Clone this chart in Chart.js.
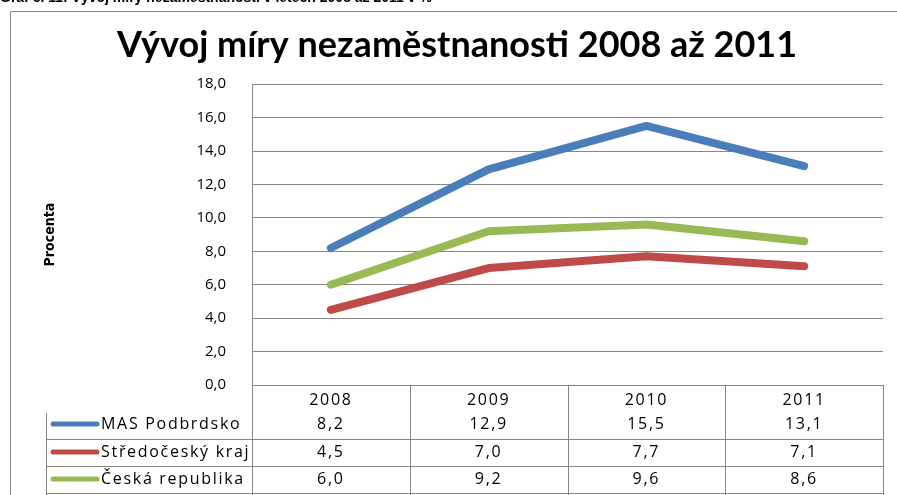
<!DOCTYPE html>
<html>
<head>
<meta charset="utf-8">
<script src="https://cdn.jsdelivr.net/npm/chart.js@4.4.0/dist/chart.umd.min.js"></script>
<style>
  html, body { margin: 0; padding: 0; background: #fff; overflow: hidden; }
</style>
</head>
<body>
<canvas id="chart" width="897" height="495"></canvas>
<script>
const years = ["2008", "2009", "2010", "2011"];
const seriesNames = ["MAS Podbrdsko", "Středočeský kraj", "Česká republika"];
const masPodbrdsko = [8.2, 12.9, 15.5, 13.1];
const stredocesky = [4.5, 7.0, 7.7, 7.1];
const ceskaRepublika = [6.0, 9.2, 9.6, 8.6];
const lineColors = ["#4a7ebb", "#be4b48", "#98b954"];

const caption = "Graf č. 11: Vývoj míry nezaměstnanosti v letech 2008 až 2011 v %";
const gridGray = "#868686";
const tableFont = '16px "Open Sans", sans-serif';

function fmt(v) {
    return v.toFixed(1).replace('.', ',');
}

// frame around the chart + cut-off caption above it
const frame = {
    id: 'frame',
    beforeDraw(chart) {
        const ctx = chart.ctx;
        ctx.save();
        ctx.strokeStyle = gridGray;
        ctx.lineWidth = 1;
        ctx.beginPath();
        ctx.moveTo(10.5, 495);
        ctx.lineTo(10.5, 11.5);
        ctx.lineTo(897, 11.5);
        ctx.stroke();
        ctx.fillStyle = "#000";
        ctx.font = 'bold 14px "Liberation Sans", sans-serif';
        ctx.textBaseline = 'alphabetic';
        ctx.fillText(caption, 0, 2);
        ctx.restore();
    }
};

// data table under the plot, like the Excel one
const dataTable = {
    id: 'dataTable',
    afterDraw(chart) {
        const ctx = chart.ctx;
        const x = chart.scales.x;
        const area = chart.chartArea;
        const series = chart.data.datasets;
        const rowY = [400, 424, 452, 479];
        const rowLines = [439, 466, 493];

        ctx.save();
        ctx.strokeStyle = gridGray;
        ctx.lineWidth = 1;
        ctx.beginPath();
        // column borders
        const edges = [area.left];
        for (let i = 0; i < years.length - 1; i++) {
            edges.push((x.getPixelForValue(i) + x.getPixelForValue(i + 1)) / 2);
        }
        edges.push(area.right);
        edges.forEach(e => {
            const ex = Math.round(e) + 0.5;
            ctx.moveTo(ex, area.bottom);
            ctx.lineTo(ex, 495);
        });
        ctx.moveTo(46.5, 413);
        ctx.lineTo(46.5, 495);
        rowLines.forEach(y => {
            ctx.moveTo(46, y + 0.5);
            ctx.lineTo(Math.round(area.right) + 1, y + 0.5);
        });
        ctx.stroke();

        ctx.fillStyle = "#000";
        ctx.font = tableFont;
        ctx.letterSpacing = '1.7px';
        ctx.textAlign = 'center';
        ctx.textBaseline = 'middle';
        years.forEach((yr, i) => {
            ctx.fillText(yr, x.getPixelForValue(i), rowY[0]);
        });
        series.forEach((ds, r) => {
            ds.data.forEach((v, i) => {
                ctx.fillText(fmt(v), x.getPixelForValue(i), rowY[r + 1]);
            });
            // legend key + name
            ctx.strokeStyle = ds.borderColor;
            ctx.lineWidth = 5;
            ctx.lineCap = 'round';
            ctx.beginPath();
            ctx.moveTo(53, rowY[r + 1]);
            ctx.lineTo(97, rowY[r + 1]);
            ctx.stroke();
            ctx.textAlign = 'left';
            ctx.fillText(ds.label, 101, rowY[r + 1]);
            ctx.textAlign = 'center';
        });
        ctx.restore();
    }
};

const datasets = [masPodbrdsko, stredocesky, ceskaRepublika].map((d, i) => ({
    label: seriesNames[i],
    data: d,
    borderColor: lineColors[i],
    backgroundColor: lineColors[i],
    borderWidth: 8,
    borderCapStyle: 'round',
    borderJoinStyle: 'round',
    pointRadius: 0,
    tension: 0
}));

new Chart("chart", {
    type: "line",
    data: {
        labels: years,
        datasets: datasets
    },
    options: {
        responsive: false,
        animation: false,
        layout: {
            padding: { top: 0, left: 31, right: 14, bottom: 110 }
        },
        plugins: {
            legend: { display: false },
            tooltip: { enabled: false },
            title: {
                display: true,
                text: 'Vývoj míry nezaměstnanosti 2008 až 2011',
                color: '#000',
                font: { family: 'Lato', size: 36, weight: 'bold' },
                padding: { top: 24, bottom: 17 }
            }
        },
        scales: {
            x: {
                display: false,
                offset: true
            },
            y: {
                min: 0,
                max: 18,
                afterFit(scale) {
                    scale.width = 221;
                },
                ticks: {
                    stepSize: 2,
                    color: '#000',
                    padding: 26,
                    font: { family: 'Open Sans', size: 15 },
                    callback: v => fmt(v)
                },
                grid: {
                    color: gridGray,
                    drawTicks: false
                },
                border: { color: gridGray },
                title: {
                    display: true,
                    text: 'Procenta',
                    color: '#000',
                    font: { family: '"Liberation Sans Narrow", "DejaVu Sans Condensed", sans-serif', size: 14, weight: 'bold' },
                    padding: { top: 11 }
                }
            }
        }
    },
    plugins: [frame, dataTable]
});
</script>
</body>
</html>
